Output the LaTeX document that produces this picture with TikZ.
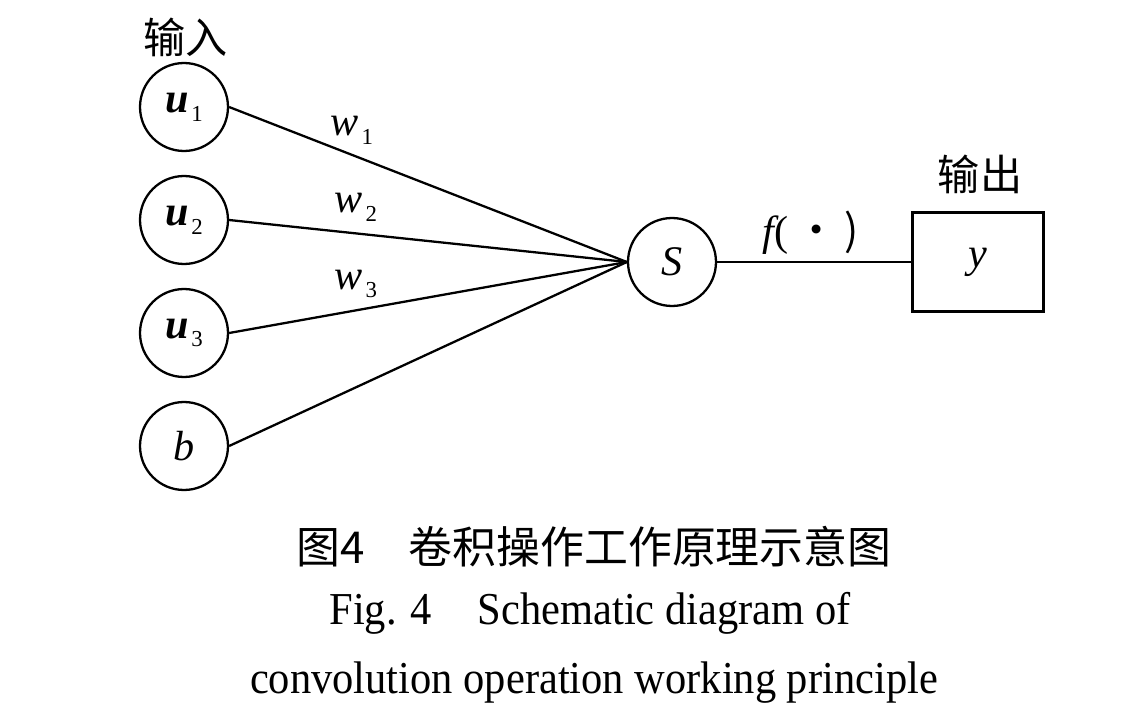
\documentclass[tikz,border=0pt]{standalone}
\usepackage{fontspec}
\setmainfont{Liberation Serif}
\newfontfamily\cjk{Noto Sans CJK SC}
\newfontfamily\capfont[FakeStretch=0.93]{Liberation Serif}
\newcommand{\subnum}[1]{\raisebox{-0.45ex}{\fontsize{13}{13}\selectfont\hspace{0.12em}#1}}
\begin{document}
\begin{tikzpicture}[x=0.02cm,y=-0.02cm,
  neuron/.style={draw, circle, minimum size=1.76cm, inner sep=0pt, line width=1.3pt, font=\fontsize{24}{28}\selectfont},
  outbox/.style={draw, rectangle, minimum width=2.62cm, minimum height=1.98cm, inner sep=0pt, line width=1.3pt, font=\fontsize{24}{28}\selectfont},
  edge/.style={line width=1.3pt},
  lab/.style={inner sep=0pt, font=\fontsize{24}{28}\selectfont},
  cjklab/.style={inner sep=0pt, font=\cjk\fontsize{24}{28}\selectfont},
  captxt/.style={inner sep=0pt, font=\capfont\fontsize{26}{30}\selectfont}
]
\useasboundingbox (0,0) rectangle (1127,720);
\node[neuron] (u1) at (184,107) {{\bfseries\itshape u}\subnum{1}};
\node[neuron] (u2) at (184,220) {{\bfseries\itshape u}\subnum{2}};
\node[neuron] (u3) at (184,333) {{\bfseries\itshape u}\subnum{3}};
\node[neuron] (b) at (184,446) {\itshape b};
\node[neuron] (S) at (672,262) {\itshape S};
\node[outbox] (y) at (978,262) {\itshape y};
\node[cjklab] (in) at (186,37) {输入};
\node[cjklab] (out) at (980,174) {输出};
\draw[edge] (u1.east) -- (S.west);
\draw[edge] (u2.east) -- (S.west);
\draw[edge] (u3.east) -- (S.west);
\draw[edge] (b.east) -- (S.west);
\draw[edge] (S.east) -- (y.west);
\node[lab] (w1) at (352,130) {{\itshape w}\subnum{1}};
\node[lab] (w2) at (356,207) {{\itshape w}\subnum{2}};
\node[lab] (w3) at (356,284) {{\itshape w}\subnum{3}};
\node[lab] (f) at (811,233) {{\itshape f}(\,\cjk ・\,)};
\node[inner sep=0pt, font=\cjk\fontsize{25}{30}\selectfont] (c1) at (594,547) {图4\hspace{1em}卷积操作工作原理示意图};
\node[captxt] (c2) at (590,613) {Fig. 4\hspace{1em}Schematic diagram of};
\node[captxt] (c3) at (594,683) {convolution operation working principle};
\end{tikzpicture}
\end{document}
